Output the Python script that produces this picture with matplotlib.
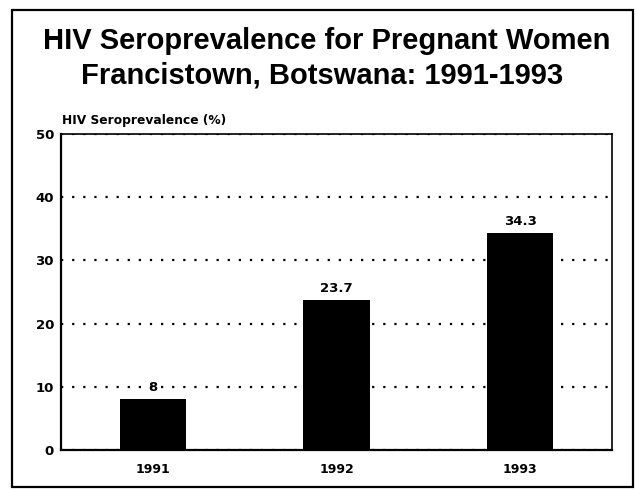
import matplotlib.pyplot as plt
from matplotlib.patches import Rectangle

years = ['1991', '1992', '1993']
prevalence = [8, 23.7, 34.3]
value_labels = ['8', '23.7', '34.3']
y_ticks = [0, 10, 20, 30, 40, 50]

small = ['DejaVu Sans']
big = ['Liberation Sans', 'DejaVu Sans']

fig = plt.figure(figsize=(6.37, 4.90), dpi=100)
ax = fig.add_axes([61 / 637, 40 / 490, 551 / 637, 316 / 490])

x = range(len(years))
ax.bar(x, prevalence, width=0.36, color='black', zorder=3)

for xi, v, lab in zip(x, prevalence, value_labels):
    ax.text(xi, v + 0.8, lab, ha='center', va='bottom', family=small,
            fontsize=9.5, fontweight='bold', zorder=4)

ax.set_xlim(-0.5, 2.5)
ax.set_ylim(0, 50)
ax.set_xticks(list(x))
ax.set_xticklabels(years)
ax.set_yticks(y_ticks)
ax.tick_params(length=0)
ax.tick_params(axis='x', labelsize=9, pad=9)
ax.tick_params(axis='y', labelsize=9.5, pad=5)
for lab in ax.get_xticklabels() + ax.get_yticklabels():
    lab.set_fontweight('bold')
    lab.set_family(small)

ax.yaxis.grid(True, linestyle=(0, (1, 4)), color='black', linewidth=1.6)
ax.set_axisbelow(True)
for side in ['left', 'bottom']:
    ax.spines[side].set_linewidth(1.6)
for side in ['top', 'right']:
    ax.spines[side].set_linewidth(1.2)

fig.text(62 / 637, 1 - 120 / 490, 'HIV Seroprevalence (%)', fontsize=8.8,
         family=small, fontweight='bold', ha='left', va='center')

fig.text(327 / 637, 1 - 41 / 490, 'HIV Seroprevalence for Pregnant Women',
         fontsize=21, family=big, fontweight='bold', ha='center', va='center')
fig.text(322 / 637, 1 - 76 / 490, 'Francistown, Botswana: 1991-1993',
         fontsize=21, family=big, fontweight='bold', ha='center', va='center')

fig.patches.append(Rectangle((12 / 637, 3 / 490), 621 / 637, 477 / 490,
                             transform=fig.transFigure, fill=False,
                             edgecolor='black', linewidth=1.6))

fig.savefig('out.png', dpi=100)
